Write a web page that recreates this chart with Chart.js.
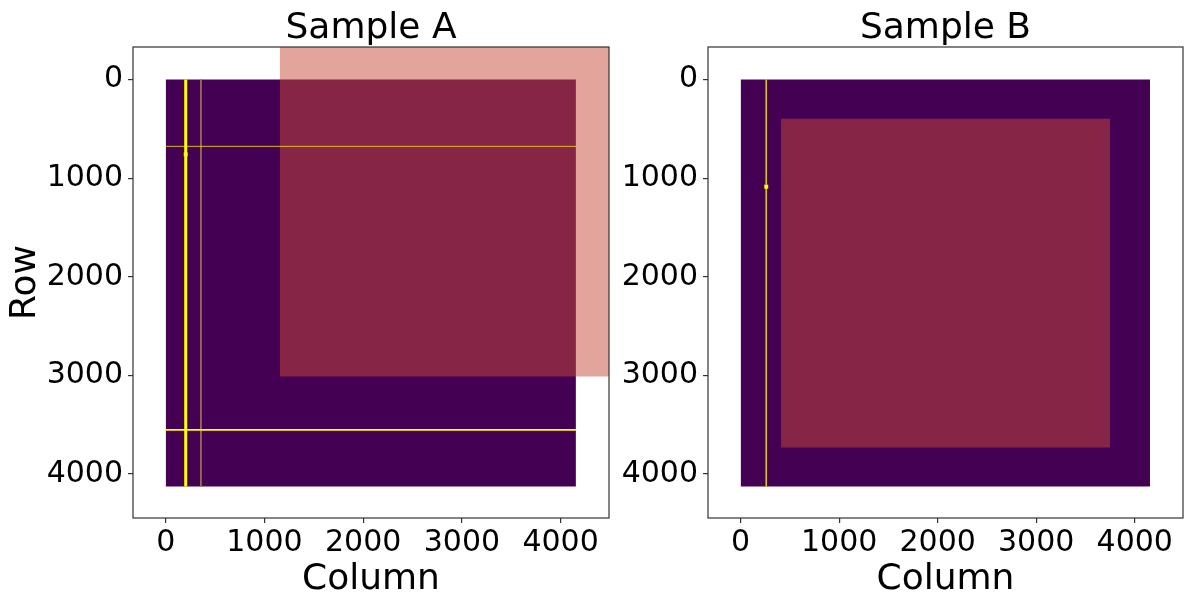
<!DOCTYPE html>
<html>
<head>
<meta charset="utf-8">
<script src="https://cdn.jsdelivr.net/npm/chart.js@4.4.0/dist/chart.umd.min.js"></script>
<style>
  body { margin: 0; background: #fff; width: 1187px; height: 598px; overflow: hidden; position: relative; }
  canvas { position: absolute; top: 0; }
</style>
</head>
<body>
<canvas id="chartA" width="640" height="598" style="left:0"></canvas>
<canvas id="chartB" width="587" height="598" style="left:600px"></canvas>
<script>
// shared axes (pixel columns / rows of the frame)
const tickValues = [0, 1000, 2000, 3000, 4000];
const colLimits = [-331, 4490];
const rowLimits = [-329, 4445];
const frameCols = [0, 4155];
const frameRows = [0, 4125];

// Sample A
const roiColsA = [1155, 4490];
const roiRowsA = [-329, 3010];
const traceColA = 203;
const edgeColA = 357;
const cutRowsA = [678, 3552];
const markA = [203, 759];

// Sample B
const roiColsB = [411, 3750];
const roiRowsB = [398, 3731];
const traceColB = 260;
const markB = [260, 1087];

const FONT = 'DejaVu Sans';
const PURPLE = '#440154';

function rect(cols, rows, color, order) {
    return {
        data: [{ x: cols[0], y: rows[0] }, { x: cols[1], y: rows[0] }],
        showLine: true,
        fill: { value: rows[1] },
        backgroundColor: color,
        borderWidth: 0,
        pointRadius: 0,
        order: order
    };
}

function vline(col, rows, color, width, order) {
    return {
        data: [{ x: col, y: rows[0] }, { x: col, y: rows[1] }],
        showLine: true,
        borderColor: color,
        borderWidth: width,
        pointRadius: 0,
        order: order
    };
}

function hline(row, cols, color, width, order) {
    return {
        data: [{ x: cols[0], y: row }, { x: cols[1], y: row }],
        showLine: true,
        borderColor: color,
        borderWidth: width,
        pointRadius: 0,
        order: order
    };
}

function mark(p) {
    return {
        data: [{ x: p[0], y: p[1] }],
        pointStyle: 'rect',
        pointRadius: 2.8,
        backgroundColor: '#ffff00',
        borderWidth: 0,
        order: 0
    };
}

// box around the plot area, like matplotlib spines
const framePlugin = {
    id: 'frame',
    afterDatasetsDraw(chart) {
        const { ctx, chartArea: a } = chart;
        ctx.save();
        ctx.strokeStyle = '#333';
        ctx.lineWidth = 1.2;
        ctx.strokeRect(a.left, a.top, a.right - a.left, a.bottom - a.top);
        ctx.restore();
    }
};

function makeChart(id, title, datasets, yWidth, padRight, showRowTitle) {
    const tickGrid = { display: true, drawOnChartArea: false, drawTicks: true, tickLength: 5, color: '#333', lineWidth: 1.2 };
    const tickFont = { family: FONT, size: 30 };
    const labelFont = { family: FONT, size: 36, lineHeight: 1 };
    return new Chart(document.getElementById(id), {
        type: 'scatter',
        data: { datasets: datasets },
        options: {
            responsive: false,
            animation: false,
            layout: { padding: { left: 0, right: padRight, top: 0, bottom: 0 } },
            plugins: {
                legend: { display: false },
                tooltip: { enabled: false },
                title: {
                    display: true,
                    text: title,
                    fullSize: false,
                    color: '#000',
                    font: { family: FONT, size: 36, weight: 'normal', lineHeight: 1 },
                    padding: { top: 11, bottom: 0 }
                }
            },
            scales: {
                x: {
                    type: 'linear',
                    min: colLimits[0],
                    max: colLimits[1],
                    afterBuildTicks: s => { s.ticks = tickValues.map(v => ({ value: v })); },
                    afterFit: s => { s.height = 80; },
                    grid: tickGrid,
                    border: { display: false },
                    ticks: { color: '#000', font: tickFont, padding: 2, maxRotation: 0, callback: v => String(v) },
                    title: { display: true, text: 'Column', color: '#000', font: labelFont, padding: 0 }
                },
                y: {
                    type: 'linear',
                    reverse: true,
                    min: rowLimits[0],
                    max: rowLimits[1],
                    afterBuildTicks: s => { s.ticks = tickValues.map(v => ({ value: v })); },
                    afterFit: s => { s.width = yWidth; },
                    grid: tickGrid,
                    border: { display: false },
                    ticks: { color: '#000', font: tickFont, padding: 5, callback: v => String(v) },
                    title: { display: showRowTitle, text: 'Row', color: '#000', font: labelFont, padding: { top: 8 } }
                }
            }
        },
        plugins: [framePlugin]
    });
}

makeChart('chartA', 'Sample A', [
    rect(frameCols, frameRows, PURPLE, 10),
    rect(roiColsA, roiRowsA, 'rgba(200, 74, 56, 0.5)', 9),
    vline(edgeColA, frameRows, '#a07058', 1, 5),
    hline(cutRowsA[0], frameCols, 'rgba(255, 225, 0, 0.8)', 1, 4),
    hline(cutRowsA[1], frameCols, '#ffff00', 1.6, 3),
    vline(traceColA, frameRows, '#ffff00', 3, 2),
    mark(markA)
], 133, 31, true);

makeChart('chartB', 'Sample B', [
    rect(frameCols, frameRows, PURPLE, 10),
    rect(roiColsB, roiRowsB, 'rgba(200, 74, 56, 0.5)', 9),
    vline(traceColB, frameRows, 'rgba(240, 215, 0, 0.8)', 1, 2),
    mark(markB)
], 108, 3, false);
</script>
</body>
</html>
